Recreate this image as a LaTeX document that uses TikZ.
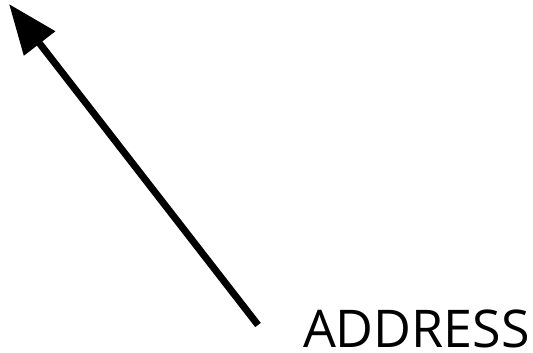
\documentclass[tikz,border=0pt]{standalone}
\usepackage{fontspec}
\setmainfont{Open Sans}
\usetikzlibrary{arrows.meta}
\tikzset{
  pointer/.style={line width=7pt, -{Triangle[length=50pt,width=38pt]}},
  label/.style={font=\fontsize{52}{56}\selectfont, inner sep=0pt, text depth=0pt, anchor=base}
}
\begin{document}
\begin{tikzpicture}[x=1pt,y=1pt]
\useasboundingbox (0,0) rectangle (533,353);
\node[label] (addr) at (416.5,5) {ADDRESS};
\coordinate (start) at (258,28);
\coordinate (tip) at (9,349);
\draw[pointer] (start) -- (tip);
\end{tikzpicture}
\end{document}
